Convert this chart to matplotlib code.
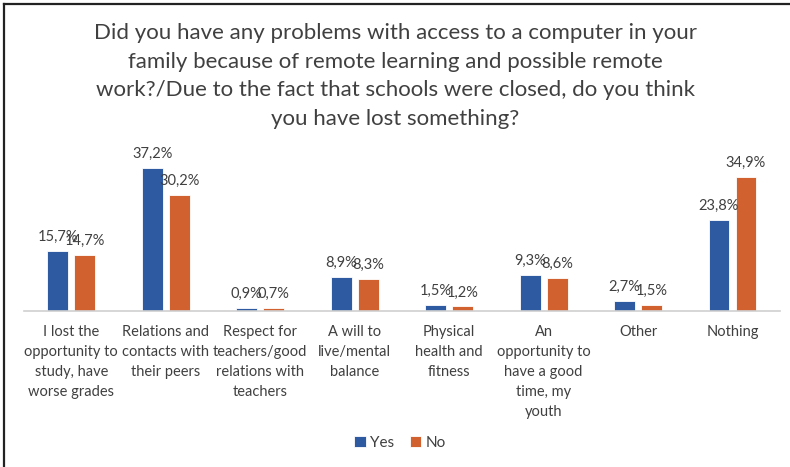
import matplotlib.pyplot as plt
from matplotlib.lines import Line2D
import numpy as np

plt.rcParams['font.family'] = ['Lato', 'DejaVu Sans']

categories = [
    'I lost the\nopportunity to\nstudy, have\nworse grades',
    'Relations and\ncontacts with\ntheir peers',
    'Respect for\nteachers/good\nrelations with\nteachers',
    'A will to\nlive/mental\nbalance',
    'Physical\nhealth and\nfitness',
    'An\nopportunity to\nhave a good\ntime, my\nyouth',
    'Other',
    'Nothing',
]
yes_values = [15.7, 37.2, 0.9, 8.9, 1.5, 9.3, 2.7, 23.8]
no_values = [14.7, 30.2, 0.7, 8.3, 1.2, 8.6, 1.5, 34.9]
series = ['Yes', 'No']
colors = ['#2D5AA0', '#D1622F']

title = ('Did you have any problems with access to a computer in your\n'
         'family because of remote learning and possible remote\n'
         'work?/Due to the fact that schools were closed, do you think\n'
         'you have lost something?')

fig = plt.figure(figsize=(7.9, 4.67), dpi=100)
ax = fig.add_axes([0.0304, 0.334, 0.9566, 0.329])

x = np.arange(len(categories))
width = 0.222
offset = 0.143
for vals, name, c, sgn in zip([yes_values, no_values], series, colors, [-1, 1]):
    bars = ax.bar(x + sgn * offset, vals, width, color=c, label=name,
                  edgecolor='white', linewidth=0.6)
    for b, v in zip(bars, vals):
        ax.annotate(f'{v:.1f}%'.replace('.', ','),
                    (b.get_x() + b.get_width() / 2, v),
                    xytext=(0, 5), textcoords='offset points',
                    ha='center', va='bottom', fontsize=10.5, color='#404040')

ax.set_xlim(-0.5, len(categories) - 0.5)
ax.set_ylim(0, 40)
ax.set_xticks(x)
ax.set_xticklabels(categories, fontsize=10.5, color='#404040', linespacing=1.55,
                   va='top')
ax.tick_params(axis='x', length=0, pad=10)
ax.set_yticks([])
for side in ['top', 'left', 'right']:
    ax.spines[side].set_visible(False)
ax.spines['bottom'].set_color('#D0D0D0')
ax.spines['bottom'].set_linewidth(1.2)

fig.text(0.5, 1 - 76 / 467, title, ha='center', va='center', fontsize=16,
         color='#404040', linespacing=1.55)

fig.legend(loc='center', bbox_to_anchor=(400 / 790, 1 - 443 / 467), ncol=2,
           frameon=False, fontsize=11, handlelength=0.75, handleheight=0.75,
           handletextpad=0.3, columnspacing=1.0, labelcolor='#404040')

# frame lines along the top and left edges
fig.add_artist(Line2D([4 / 790, 1], [1 - 4 / 467, 1 - 4 / 467],
                      transform=fig.transFigure, color='#222222', linewidth=1.6))
fig.add_artist(Line2D([4 / 790, 4 / 790], [0, 1 - 4 / 467],
                      transform=fig.transFigure, color='#222222', linewidth=1.6))

fig.savefig('out.png', dpi=100)
